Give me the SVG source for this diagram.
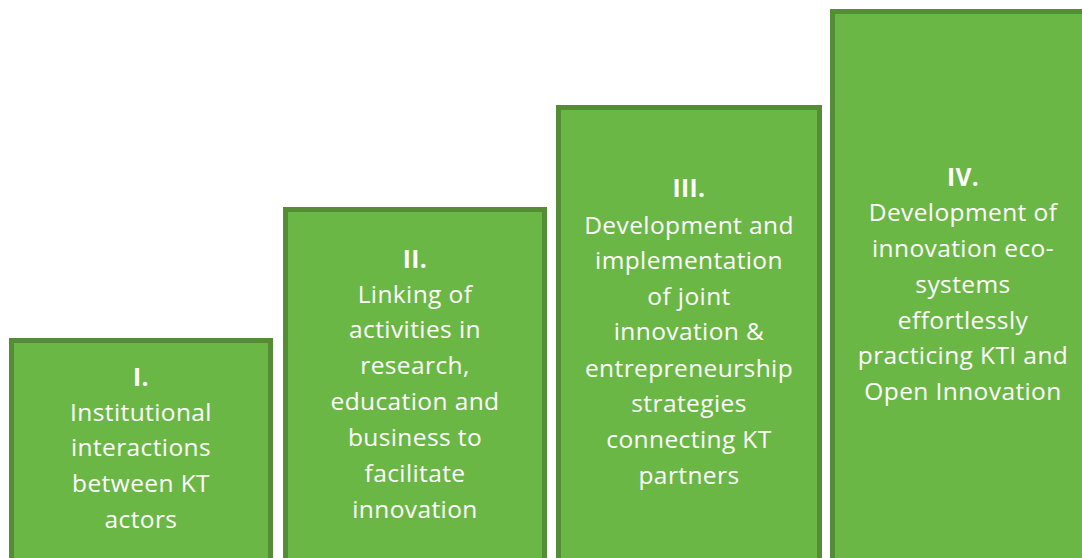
<svg xmlns="http://www.w3.org/2000/svg" width="1082" height="558" viewBox="0 0 1082 558">
<style>
.box{fill:#6bb745;stroke:#548d35;stroke-width:5}
.t{font-family:"Open Sans","Liberation Sans",sans-serif;font-size:24.5px;letter-spacing:0.4px;fill:#ffffff;text-anchor:middle}
.b{font-weight:bold}
</style>
<rect width="1082" height="558" fill="#ffffff"/>
<g id="step1">
<rect class="box" x="11.5" y="340.5" width="259" height="220"/>
<text class="t"><tspan class="b" x="141" y="386">I.</tspan><tspan x="141" y="421">Institutional</tspan><tspan x="141" y="456">interactions</tspan><tspan x="141" y="492">between KT</tspan><tspan x="141" y="528">actors</tspan></text>
</g>
<g id="step2">
<rect class="box" x="285.5" y="209.5" width="259" height="351"/>
<text class="t"><tspan class="b" x="415" y="268">II.</tspan><tspan x="415" y="303">Linking of</tspan><tspan x="415" y="338">activities in</tspan><tspan x="415" y="374">research,</tspan><tspan x="415" y="410">education and</tspan><tspan x="415" y="446">business to</tspan><tspan x="415" y="482">facilitate</tspan><tspan x="415" y="518">innovation</tspan></text>
</g>
<g id="step3">
<rect class="box" x="558.5" y="107.5" width="261" height="453"/>
<text class="t"><tspan class="b" x="689" y="197">III.</tspan><tspan x="689" y="234">Development and</tspan><tspan x="689" y="269">implementation</tspan><tspan x="689" y="305">of joint</tspan><tspan x="689" y="340">innovation &amp;</tspan><tspan x="689" y="377">entrepreneurship</tspan><tspan x="689" y="412">strategies</tspan><tspan x="689" y="448">connecting KT</tspan><tspan x="689" y="484">partners</tspan></text>
</g>
<g id="step4">
<rect class="box" x="832.5" y="11.5" width="262" height="549"/>
<text class="t"><tspan class="b" x="963" y="186">IV.</tspan><tspan x="963" y="221">Development of</tspan><tspan x="963" y="257">innovation eco-</tspan><tspan x="963" y="293">systems</tspan><tspan x="963" y="329">effortlessly</tspan><tspan x="963" y="364">practicing KTI and</tspan><tspan x="963" y="400">Open Innovation</tspan></text>
</g>
<g id="connectors"/>
</svg>
